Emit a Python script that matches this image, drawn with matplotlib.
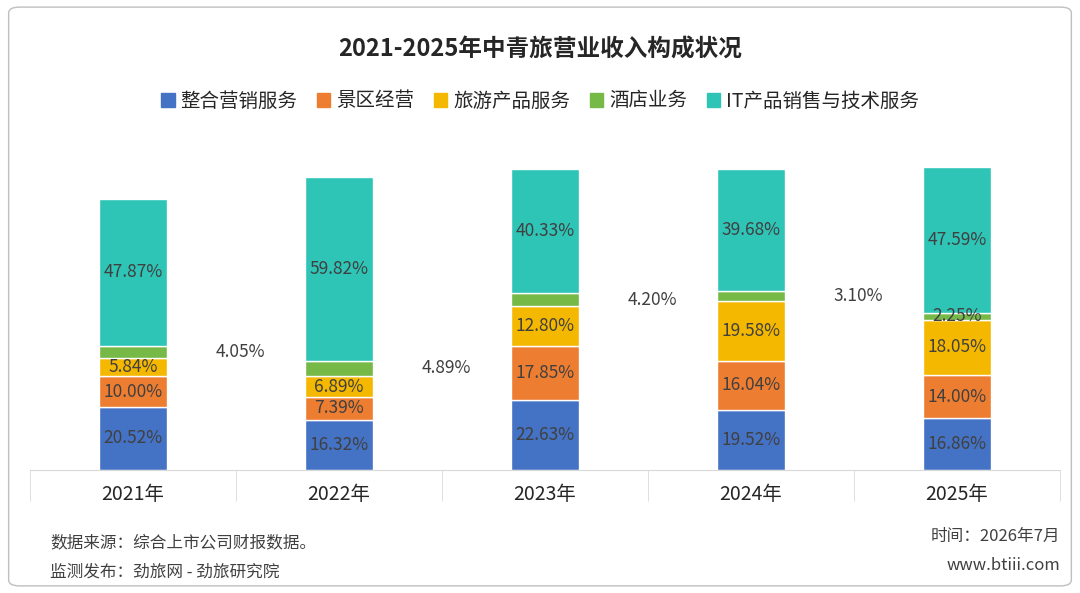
import matplotlib.pyplot as plt
from matplotlib.patches import FancyBboxPatch
import numpy as np

plt.rcParams['font.family'] = ['Noto Sans CJK SC', 'DejaVu Sans']

years = ['2021年', '2022年', '2023年', '2024年', '2025年']
series_names = ['整合营销服务', '景区经营', '旅游产品服务', '酒店业务', 'IT产品销售与技术服务']
marketing = [20.52, 16.32, 22.63, 19.52, 16.86]
scenic = [10.00, 7.39, 17.85, 16.04, 14.00]
travel = [5.84, 6.89, 12.80, 19.58, 18.05]
hotel = [4.05, 4.89, 4.20, 3.10, 2.25]
it_sales = [47.87, 59.82, 40.33, 39.68, 47.59]
colors = ['#4472C4', '#ED7D31', '#F5B800', '#76B947', '#2EC4B6']

series = [marketing, scenic, travel, hotel, it_sales]

fig = plt.figure(figsize=(10.8, 5.93), dpi=100)
fig.patches.append(FancyBboxPatch((0.008, 0.012), 0.984, 0.976,
                                  boxstyle='round,pad=0,rounding_size=0.01',
                                  transform=fig.transFigure, fill=False,
                                  edgecolor='#BFBFBF', linewidth=1))

ax = fig.add_axes([30 / 1080, (593 - 470) / 593, 1030 / 1080, 338 / 593])
x = np.arange(len(years))
bottom = np.zeros(len(years))
txt = '#404040'
for k, (vals, c) in enumerate(zip(series, colors)):
    vals = np.array(vals)
    ax.bar(x, vals, 0.33, bottom=bottom, color=c, edgecolor='white', linewidth=1)
    for i, v in enumerate(vals):
        y = bottom[i] + v / 2
        if k == 3 and i < 4:
            ax.text(x[i] + 0.4, y, f'{v:.2f}%', ha='left', va='center', fontsize=12.5, color=txt)
        else:
            ax.text(x[i], y, f'{v:.2f}%', ha='center', va='center', fontsize=12.5, color=txt)
    bottom += vals

ax.set_xlim(-0.5, 4.5)
ax.set_ylim(0, 110)
ax.set_yticks([])
ax.set_xticks(x)
ax.set_xticklabels(years, fontsize=14, color='#262626')
ax.set_xticks(np.arange(-0.5, 5, 1), minor=True)
ax.tick_params(axis='x', which='major', length=0, pad=10)
ax.tick_params(axis='x', which='minor', length=22, color='#D9D9D9')
for s in ['top', 'left', 'right']:
    ax.spines[s].set_visible(False)
ax.spines['bottom'].set_color('#D9D9D9')

fig.text(0.5, 1 - 50 / 593, '2021-2025年中青旅营业收入构成状况', ha='center', va='center',
         fontsize=17, fontweight='bold', color='#262626')
handles = [plt.Rectangle((0, 0), 1, 1, color=c) for c in colors]
fig.legend(handles, series_names, loc='center', bbox_to_anchor=(0.5, 1 - 101 / 593),
           ncol=5, frameon=False, fontsize=14, handlelength=0.7, handleheight=0.7,
           handletextpad=0.3, columnspacing=1.0, labelcolor='#262626')

fig.text(50 / 1080, 1 - 543 / 593, '数据来源：综合上市公司财报数据。', fontsize=12, color='#404040', va='center')
fig.text(50 / 1080, 1 - 572 / 593, '监测发布：劲旅网 - 劲旅研究院', fontsize=12, color='#404040', va='center')
fig.text(1060 / 1080, 1 - 536 / 593, '时间：2026年7月', fontsize=12, color='#404040', va='center', ha='right')
fig.text(1060 / 1080, 1 - 565 / 593, 'www.btiii.com', fontsize=12, color='#404040', va='center', ha='right')

fig.savefig('out.png', dpi=100)
